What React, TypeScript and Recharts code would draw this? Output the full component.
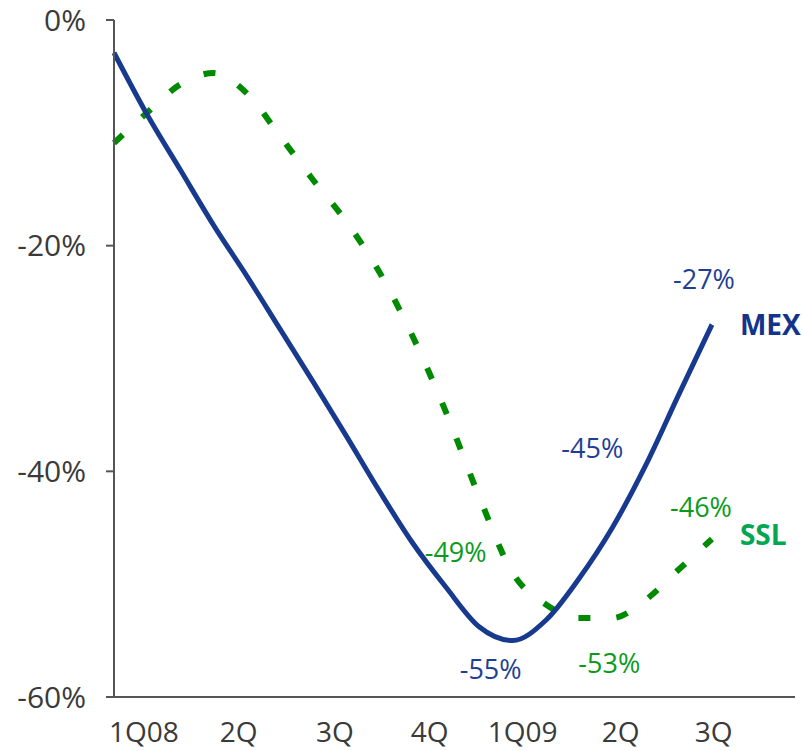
import { LineChart, Line, XAxis, YAxis } from 'recharts';

// monthly readings, Jan 2008 (index 0) through Sep 2009 (index 18)
const mexValues = [
  -2.9, -8.4, -13.3, -18.2, -22.7, -27.4, -32.1, -36.9, -41.8, -46.4,
  -50.3, -53.8, -55, -53.2, -49.5, -45, -39.5, -33.2, -27,
];
const sslValues = [
  -10.9, -8.2, -5.7, -4.7, -6.5, -10.3, -14.2, -17.9, -22.4, -28.1,
  -34.8, -42.3, -49, -51.8, -53, -53, -51.4, -48.7, -46,
];

const quarterTicks = [0.9, 3.75, 6.65, 9.5, 12.3, 15.25, 18.05];
const quarterLabels = ['1Q08', '2Q', '3Q', '4Q', '1Q09', '2Q', '3Q'];
const yTicks = [0, -20, -40, -60];

const MEX_COLOR = '#173a8e';
const SSL_COLOR = '#008a00';
const FONT = '"Open Sans", "Noto Sans", sans-serif';

const data = mexValues.map((mex, i) => ({ month: i, mex, ssl: sslValues[i] }));

// which points get a value callout, and where the text sits relative to the point
type Callout = { index: number; dx: number; dy: number };
const mexCallouts: Callout[] = [
  { index: 12, dx: -22, dy: 38 },
  { index: 15, dx: -20, dy: -70 },
  { index: 18, dx: -8, dy: -36 },
];
const sslCallouts: Callout[] = [
  { index: 12, dx: -57, dy: -11 },
  { index: 15, dx: -3, dy: 55 },
  { index: 18, dx: -11, dy: -22 },
];

function makeLabel(callouts: Callout[], color: string, name: string, nameColor: string, nameDy: number) {
  return (props: any) => {
    const { x, y, value, index } = props;
    const c = callouts.find((k) => k.index === index);
    if (!c) return null;
    const last = index === data.length - 1;
    return (
      <g key={`lbl-${name}-${index}`}>
        <text
          x={x + c.dx}
          y={y + c.dy}
          textAnchor="middle"
          fill={color}
          fontSize={27}
          fontFamily={FONT}
        >
          {`${Math.round(value)}%`}
        </text>
        {last && (
          <text
            x={x + 28}
            y={y + nameDy}
            fill={nameColor}
            fontSize={28}
            fontWeight={700}
            fontFamily={FONT}
          >
            {name}
          </text>
        )}
      </g>
    );
  };
}

export default function App() {
  return (
    <div style={{ position: 'absolute', left: 0, top: 0, background: '#fff' }}>
      <LineChart
        width={803}
        height={751}
        data={data}
        margin={{ top: 20, right: 8, bottom: 0, left: 0 }}
      >
        <XAxis
          dataKey="month"
          type="number"
          domain={[0, 20.5]}
          ticks={quarterTicks}
          tickFormatter={(v: number) => quarterLabels[quarterTicks.indexOf(v)] ?? ''}
          interval={0}
          height={54}
          tickLine={false}
          tickSize={0}
          tickMargin={25}
          axisLine={{ stroke: '#555', strokeWidth: 2 }}
          tick={{ fill: '#3a3a3a', fontSize: 28, fontFamily: FONT }}
        />
        <YAxis
          type="number"
          domain={[-60, 0]}
          ticks={yTicks}
          width={114}
          tickFormatter={(v: number) => `${v}%`}
          tickSize={8}
          tickMargin={20}
          axisLine={{ stroke: '#555', strokeWidth: 2 }}
          tickLine={{ stroke: '#555', strokeWidth: 2 }}
          tick={{ fill: '#3a3a3a', fontSize: 30, fontFamily: FONT }}
        />
        <Line
          dataKey="ssl"
          type="monotone"
          stroke={SSL_COLOR}
          strokeWidth={6}
          strokeDasharray="12 26"
          dot={false}
          isAnimationActive={false}
          label={makeLabel(sslCallouts, '#0c9a1c', 'SSL', '#00a651', 6)}
        />
        <Line
          dataKey="mex"
          type="monotone"
          stroke={MEX_COLOR}
          strokeWidth={5}
          dot={false}
          isAnimationActive={false}
          label={makeLabel(mexCallouts, '#1f3f95', 'MEX', '#12348a', 10)}
        />
      </LineChart>
    </div>
  );
}
